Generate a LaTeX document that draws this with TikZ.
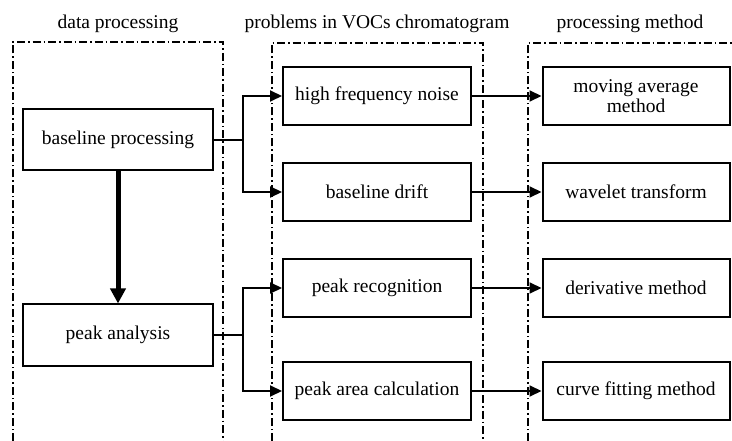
\documentclass[tikz,border=0pt]{standalone}
\usepackage{fontspec}
\setmainfont{Liberation Serif}
\usetikzlibrary{arrows.meta}
\begin{document}
\begin{tikzpicture}[x=1pt,y=-1pt,
  every node/.style={font=\fontsize{19.5}{22}\selectfont, inner sep=0pt},
  box/.style={draw, line width=2pt, minimum height=58pt, align=center},
  lbox/.style={box, minimum width=190pt, minimum height=61pt},
  mbox/.style={box, minimum width=188pt},
  rbox/.style={box, minimum width=187pt},
  panel/.style={line width=1.5pt, dash pattern=on 8pt off 3pt on 1.5pt off 3pt},
  conn/.style={line width=2pt},
  arr/.style={conn, -{Triangle[length=12pt,width=11pt]}},
  bigarr/.style={line width=5pt, -{Triangle[length=15pt,width=15pt]}}]
\useasboundingbox (0,0) rectangle (732,441);

% column frames, open at the bottom
\draw[panel] (13,441) -- (13,42) -- (223,42) -- (223,441);
\draw[panel] (272,441) -- (272,43) -- (483,43) -- (483,441);
\draw[panel] (528,441) -- (528,43) -- (732,43);

% column headings
\node (t1) at (118,24) {data processing};
\node (t2) at (377,24) {problems in VOCs chromatogram};
\node (t3) at (630,24) {processing method};

% data processing steps
\node[lbox] (bp) at (118,140) {baseline processing};
\node[lbox] (pa) at (118,335) {peak analysis};

% problems
\node[mbox] (hfn) at (377,96) {high frequency noise};
\node[mbox] (bd)  at (377,192) {baseline drift};
\node[mbox] (pr)  at (377,288) {peak recognition};
\node[mbox] (pac) at (377,391) {peak area calculation};

% methods
\node[rbox] (mam) at (636,96) {moving average\\[-2pt]method};
\node[rbox] (wt)  at (636,192) {wavelet transform};
\node[rbox] (dm)  at (636,288) {derivative method};
\node[rbox] (cfm) at (636,391) {curve fitting method};

% flow between processing steps
\draw[bigarr] (bp) -- (pa);

% branches to the problems
\coordinate (j1) at (243,140);
\coordinate (j2) at (243,335);
\draw[conn] (bp.east) -- (j1);
\draw[arr] (j1) |- (hfn);
\draw[arr] (j1) |- (bd);
\draw[conn] (pa.east) -- (j2);
\draw[arr] (j2) |- (pr);
\draw[arr] (j2) |- (pac);

% problems to methods
\draw[arr] (hfn) -- (hfn -| mam.west);
\draw[arr] (bd) -- (bd -| wt.west);
\draw[arr] (pr) -- (pr -| dm.west);
\draw[arr] (pac) -- (pac -| cfm.west);
\end{tikzpicture}
\end{document}
